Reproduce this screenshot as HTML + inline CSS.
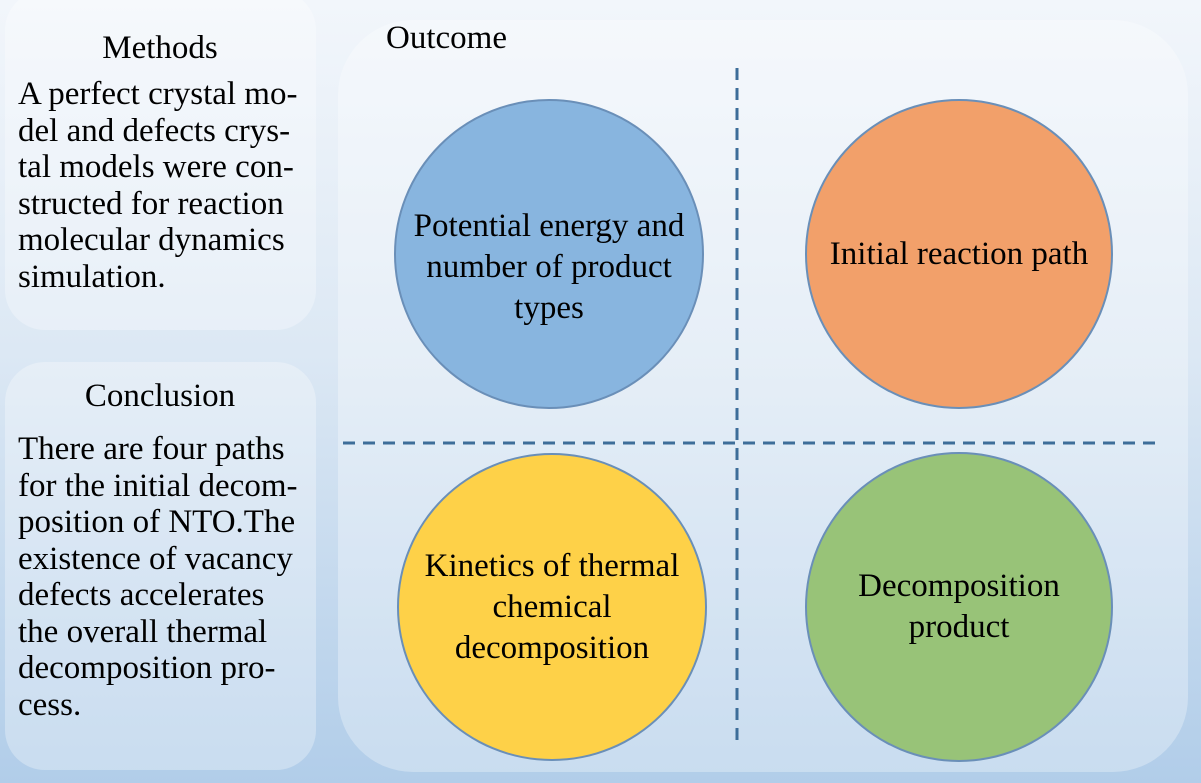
<!DOCTYPE html>
<html><head><style>
body{margin:0;width:1201px;height:783px;overflow:hidden;background:linear-gradient(#f2f6fb,#dce8f4 45%,#b1cde9);font-family:"Liberation Serif",serif;color:#000;position:relative}
.box{position:absolute;background:rgba(255,255,255,0.3);}
.t{position:absolute;font-size:33px;line-height:36.5px;white-space:pre}
.c{position:absolute;border-radius:50%;border:2px solid #6a8fb8;box-sizing:border-box;display:flex;align-items:center;justify-content:center;text-align:center;font-size:33px;line-height:41px}
</style></head><body>
<div class="box" style="left:5px;top:-10px;width:311px;height:340px;border-radius:40px"></div>
<div class="box" style="left:5px;top:362px;width:311px;height:408px;border-radius:40px"></div>
<div class="box" style="left:338px;top:20px;width:850px;height:752px;border-radius:75px"></div>
<div class="t" style="left:0;width:320px;text-align:center;top:30px">Methods</div>
<div class="t" style="left:18px;top:76px">A perfect crystal mo-
del and defects crys-
tal models were con-
structed for reaction
molecular dynamics
simulation.</div>
<div class="t" style="left:0;width:320px;text-align:center;top:378px">Conclusion</div>
<div class="t" style="left:18px;top:431px">There are four paths
for the initial decom-
position of NTO.The
existence of vacancy
defects accelerates
the overall thermal
decomposition pro-
cess.</div>
<div class="t" style="left:386px;top:20px">Outcome</div>
<svg style="position:absolute;left:0;top:0" width="1201" height="783">
<line x1="737" y1="68" x2="737" y2="748" stroke="#3d6d99" stroke-width="3" stroke-dasharray="12,8"/>
<line x1="343" y1="443" x2="1162" y2="443" stroke="#3d6d99" stroke-width="3" stroke-dasharray="12,8"/>
</svg>
<div class="c" style="left:394px;top:99px;width:310px;height:310px;background:#88b5df;padding-top:26px">Potential energy and<br>number of product<br>types</div>
<div class="c" style="left:805px;top:99px;width:308px;height:310px;background:#f2a06a">Initial reaction path</div>
<div class="c" style="left:397px;top:453px;width:310px;height:308px;background:#fed148">Kinetics of thermal<br>chemical<br>decomposition</div>
<div class="c" style="left:805px;top:452px;width:308px;height:310px;background:#98c378">Decomposition<br>product</div>
</body></html>
